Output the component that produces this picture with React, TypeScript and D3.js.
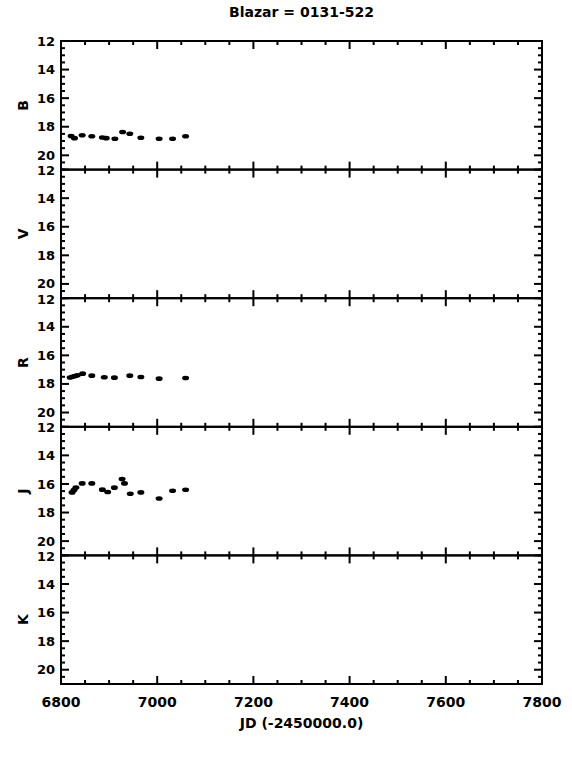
import React from 'react'
import * as d3 from 'd3'

// photometry (JD - 2450000, magnitude)
const bands = ['B', 'V', 'R', 'J', 'K']

const bJd = [6821, 6828, 6844, 6864, 6886, 6894, 6912, 6928, 6943, 6966, 7004, 7032, 7059]
const bMag = [18.65, 18.8, 18.6, 18.67, 18.75, 18.8, 18.84, 18.37, 18.49, 18.77, 18.84, 18.84, 18.67]

const rJd = [6819, 6824, 6829, 6834, 6845, 6864, 6890, 6911, 6943, 6966, 7004, 7059]
const rMag = [17.55, 17.5, 17.45, 17.4, 17.28, 17.42, 17.53, 17.56, 17.42, 17.51, 17.63, 17.58]

const jJd = [6823, 6827, 6831, 6844, 6864, 6886, 6897, 6911, 6927, 6932, 6944, 6966, 7004, 7032, 7059]
const jMag = [16.59, 16.43, 16.25, 15.96, 15.96, 16.4, 16.56, 16.26, 15.65, 15.96, 16.69, 16.59, 17.02, 16.48, 16.41]

const series: Record<string, { jd: number[]; mag: number[] }> = {
  B: { jd: bJd, mag: bMag },
  V: { jd: [], mag: [] },
  R: { jd: rJd, mag: rMag },
  J: { jd: jJd, mag: jMag },
  K: { jd: [], mag: [] },
}

const xTicks = [6800, 7000, 7200, 7400, 7600, 7800]
const yTicks = [12, 14, 16, 18, 20]

const App = () => {
  const width = 572
  const height = 762
  const left = 61
  const right = 542
  const top = 41
  const panelH = 128.6

  const font = "'DejaVu Sans', sans-serif"

  const xScale = d3.scaleLinear().domain([6800, 7800]).range([left, right])
  const xMinor = d3.range(6800, 7801, 50)
  const yMinor = d3.range(12, 21.01, 0.5)

  return (
    <svg
      width={width}
      height={height}
      style={{ position: 'absolute', left: 0, top: 0, background: '#fff' }}
    >
      <text
        x={(left + right) / 2}
        y={17}
        textAnchor="middle"
        fontFamily={font}
        fontWeight="bold"
        fontSize={14}
      >
        Blazar = 0131-522
      </text>

      {bands.map((band, i) => {
        const y0 = top + i * panelH
        const y1 = y0 + panelH
        const yScale = d3.scaleLinear().domain([12, 21]).range([y0, y1])
        const d = series[band]
        return (
          <g key={band}>
            <rect
              x={left}
              y={y0}
              width={right - left}
              height={panelH}
              fill="none"
              stroke="#000"
              strokeWidth={2}
            />
            {/* x ticks top and bottom, inward */}
            {xMinor.map(v => {
              const major = v % 200 === 0
              const len = major ? 8 : 4
              const x = xScale(v)
              return (
                <g key={'x' + v} stroke="#000" strokeWidth={2}>
                  <line x1={x} x2={x} y1={y0} y2={y0 + len} />
                  <line x1={x} x2={x} y1={y1} y2={y1 - len} />
                </g>
              )
            })}
            {/* y ticks left and right, inward */}
            {yMinor.map(v => {
              const major = Math.abs(v % 2) < 1e-6
              const len = major ? 8 : 4
              const y = yScale(v)
              return (
                <g key={'y' + v} stroke="#000" strokeWidth={2}>
                  <line x1={left} x2={left + len} y1={y} y2={y} />
                  <line x1={right} x2={right - len} y1={y} y2={y} />
                </g>
              )
            })}
            {yTicks.map(v => (
              <text
                key={'yl' + v}
                x={left - 6}
                y={yScale(v) + (v === 12 && i > 0 ? 1 : 0)}
                dy="0.35em"
                textAnchor="end"
                fontFamily={font}
                fontWeight="bold"
                fontSize={13}
              >
                {v}
              </text>
            ))}
            <text
              transform={`translate(28,${(y0 + y1) / 2}) rotate(-90)`}
              textAnchor="middle"
              fontFamily={font}
              fontWeight="bold"
              fontSize={14}
            >
              {band}
            </text>
            {d.jd.map((jd, k) => (
              <ellipse
                key={'p' + k}
                cx={xScale(jd)}
                cy={yScale(d.mag[k])}
                rx={3.5}
                ry={2.3}
                fill="#000"
              />
            ))}
          </g>
        )
      })}

      {xTicks.map(v => (
        <text
          key={'xl' + v}
          x={xScale(v)}
          y={707}
          textAnchor="middle"
          fontFamily={font}
          fontWeight="bold"
          fontSize={14}
        >
          {v}
        </text>
      ))}
      <text
        x={(left + right) / 2}
        y={728}
        textAnchor="middle"
        fontFamily={font}
        fontWeight="bold"
        fontSize={14}
      >
        JD (-2450000.0)
      </text>
    </svg>
  )
}

export default App
